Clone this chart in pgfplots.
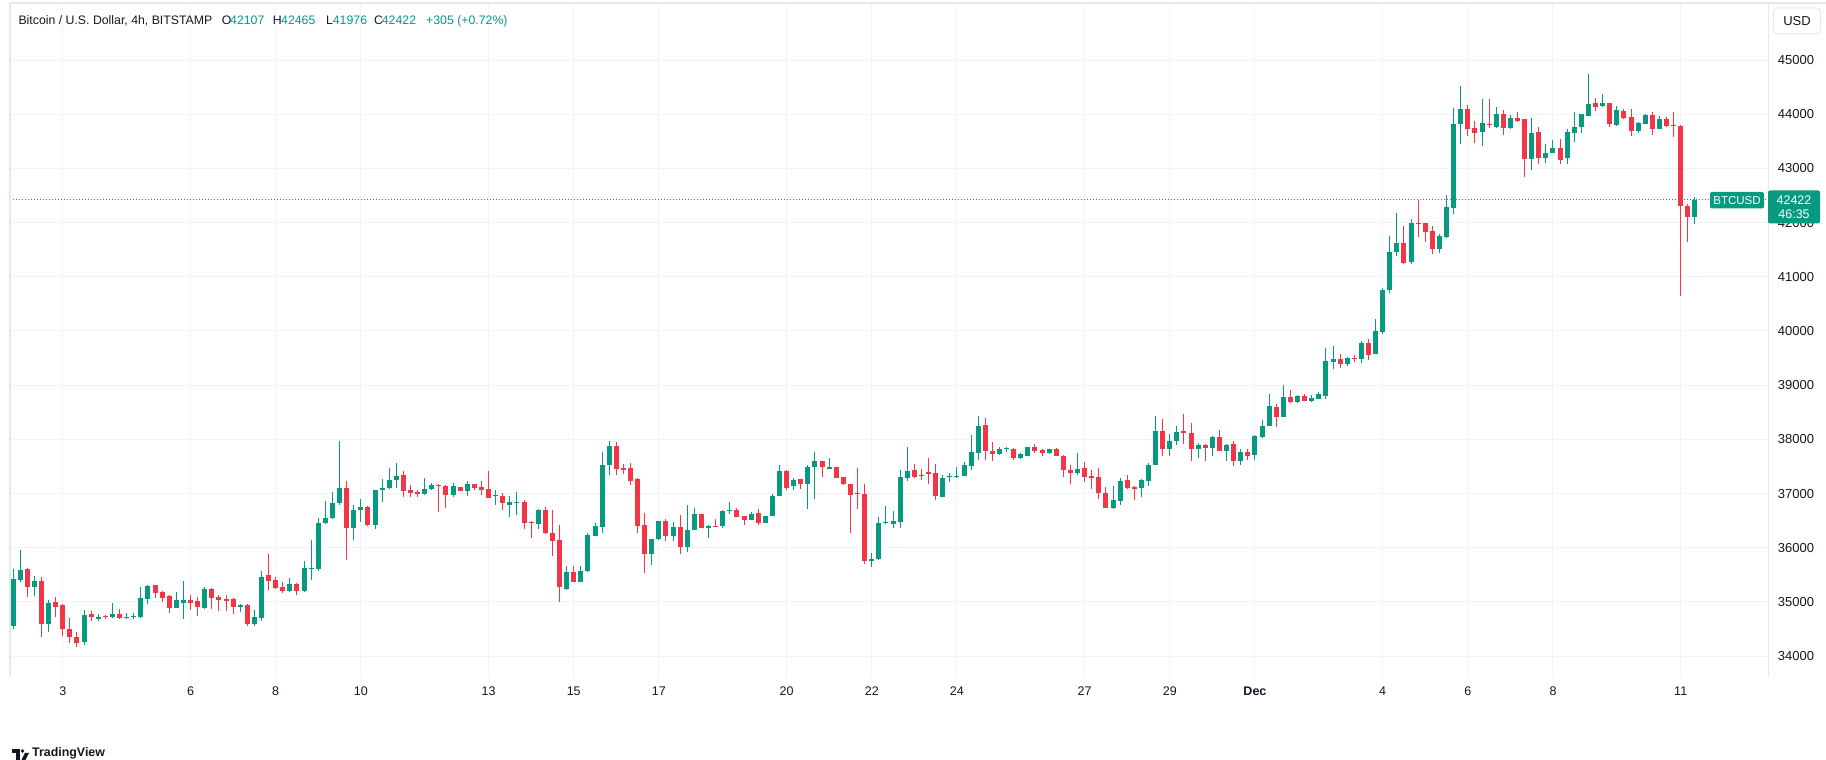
\documentclass[border=0pt]{standalone}
\usepackage{pgfplots}
\pgfplotsset{compat=1.18}
\usepackage{pgfplotstable}
\usepackage{fontspec}
\setmainfont{Liberation Sans}
\definecolor{cg}{HTML}{089981}
\definecolor{cr}{HTML}{F23645}
\definecolor{gridc}{HTML}{F0F3FA}
\definecolor{txt}{HTML}{131722}
\definecolor{framec}{HTML}{E6E8EE}

% i = candle index (4h candles, 0 = Nov 1 20:00), O H L C
\pgfplotstableread{
i O H L C
0 34560 35610 34500 35430
1 35406 35960 35375 35590
3 35284 35480 35117 35388
5 34600 35030 34450 34980
10 34260 34850 34200 34760
12 34690 34780 34650 34730
14 34718 34982 34700 34780
16 34705 34800 34690 34730
17 34720 34800 34690 34743
18 34730 35283 34700 35075
19 35056 35314 34970 35296
23 34890 35180 34880 35031
24 34982 35388 34690 35031
27 34890 35283 34870 35240
32 34908 34970 34810 34945
34 34600 34850 34550 34725
35 34700 35572 34650 35462
39 35203 35443 35185 35333
41 35203 35750 35185 35627
42 35610 36150 35406 35630
43 35609 36550 35572 36457
44 36457 36857 36440 36550
45 36550 37023 36530 36826
46 36826 37976 36790 37103
48 36365 36790 36150 36697
49 36697 36900 36470 36752
51 36420 37066 36350 37066
52 37066 37269 36845 37100
53 37100 37470 37090 37250
54 37250 37564 37100 37324
58 36990 37287 36980 37084
59 37084 37195 37070 37158
62 36974 37195 36937 37140
64 37047 37232 36955 37176
68 36955 37066 36790 36980
70 36790 36955 36568 36845
71 36830 37028 36605 36850
74 36439 36716 36347 36697
78 35240 35664 35220 35554
80 35370 35664 35360 35572
81 35572 36273 35560 36236
82 36218 36457 36210 36402
83 36384 37766 36273 37527
84 37527 37969 37342 37877
90 35886 36170 35683 36162
91 36162 36500 36144 36494
93 36218 36476 36125 36384
95 36015 36790 35923 36328
96 36328 36734 36320 36623
98 36365 36420 36180 36402
100 36402 36697 36365 36678
101 36670 36845 36623 36690
104 36513 36660 36505 36623
106 36457 36590 36450 36586
107 36586 36992 36580 36955
108 36955 37527 36950 37416
110 37140 37287 37066 37250
112 37176 37527 36716 37490
113 37490 37766 36900 37600
115 37453 37656 37450 37490
121 35750 35900 35650 35800
122 35800 36570 35780 36466
123 36466 36780 36430 36485
124 36448 36670 36374 36503
125 36485 37443 36374 37314
126 37296 37867 37240 37425
131 36945 37351 36940 37296
132 37300 37388 37222 37320
133 37310 37499 37280 37330
134 37333 37591 37330 37535
135 37517 38089 37443 37775
136 37757 38439 37628 38255
139 37738 37867 37720 37830
140 37815 37867 37775 37835
142 37664 37757 37646 37738
143 37701 37867 37690 37867
146 37757 37830 37738 37830
150 37388 37757 37351 37462
155 36743 37148 36724 36890
156 36872 37296 36798 37240
159 37111 37265 36945 37259
160 37240 37572 37148 37535
161 37535 38439 37530 38162
163 37830 38107 37701 37978
164 37978 38255 37904 38144
167 37830 37941 37664 37904
169 37849 38060 37701 38052
171 37794 37923 37609 37904
173 37609 37830 37535 37775
175 37720 38089 37628 38070
176 38052 38365 38033 38255
177 38255 38845 38250 38623
179 38420 39010 38415 38789
181 38697 38826 38679 38808
183 38716 38826 38697 38771
184 38752 38881 38745 38845
185 38808 39693 38752 39453
186 39435 39730 39305 39490
188 39398 39515 39361 39508
190 39490 39822 39416 39785
192 39582 40227 39575 40006
193 39988 40800 39950 40750
194 40750 41749 40700 41454
195 41454 42173 41380 41620
197 41269 42062 41232 41988
201 41509 41785 41435 41749
202 41730 42505 41712 42284
203 42265 44109 42154 43814
204 43814 44514 43445 44090
207 43671 44280 43412 43837
209 43763 44132 43745 44003
211 43745 43985 43726 43929
214 43172 43929 42969 43652
216 43191 43449 43098 43283
217 43283 43523 43280 43375
219 43191 43726 43080 43671
220 43652 44040 43486 43763
221 43763 44010 43652 44003
222 43966 44742 43960 44188
224 44151 44372 44132 44206
226 43800 44151 43782 44077
229 43689 43855 43652 43837
230 43818 44003 43815 43985
232 43726 43966 43720 43911
237 42107 42465 41976 42422
}\greentab

\pgfplotstableread{
i O H L C
2 35608 35620 35100 35284
4 35388 35460 34360 34600
6 35000 35090 34720 34910
7 34940 34960 34380 34500
8 34500 34700 34250 34350
9 34350 34450 34170 34250
11 34780 34835 34650 34718
13 34740 34760 34680 34718
15 34780 34870 34680 34705
20 35314 35320 35075 35167
21 35190 35200 34995 35075
22 35111 35120 34800 34890
25 35031 35123 34860 34982
26 35019 35093 34750 34908
28 35240 35260 34870 35075
29 35093 35130 34830 35037
30 35056 35130 34830 35019
31 35056 35070 34780 34908
33 34945 34970 34560 34600
36 35500 35886 35216 35388
37 35406 35460 35240 35259
38 35277 35370 35160 35203
40 35333 35350 35120 35203
47 37103 37232 35775 36365
50 36752 36770 36400 36420
55 37342 37416 36937 37047
56 37066 37160 36937 37010
57 37028 37066 36937 36990
60 37160 37170 36660 37140
61 37140 37150 36740 36974
63 37120 37130 37040 37047
65 37176 37180 37066 37103
66 37121 37232 36974 37066
67 37084 37416 36910 36918
69 36955 37010 36697 36826
72 36845 36882 36347 36457
73 36480 36494 36180 36457
75 36697 36752 36260 36273
76 36273 36697 35850 36125
77 36144 36420 35000 35277
79 35554 35664 35360 35370
85 37877 37950 37342 37453
86 37470 37545 37360 37435
87 37470 37564 37158 37232
88 37269 37280 36273 36402
89 36420 36642 35535 35886
92 36494 36531 36125 36218
94 36384 36605 35886 36015
97 36623 36630 36360 36365
99 36410 36531 36384 36390
102 36697 36734 36560 36568
103 36586 36590 36420 36513
105 36641 36716 36420 36457
109 37416 37435 37066 37103
111 37269 37275 37084 37176
114 37600 37605 37305 37490
116 37490 37495 37280 37287
117 37305 37310 37158 37176
118 37176 37180 36273 36974
119 37015 37480 36720 36990
120 37000 37185 35700 35750
127 37443 37554 37296 37314
128 37350 37450 37250 37330
129 37390 37664 37185 37370
130 37388 37554 36890 36964
137 38273 38400 37628 37794
138 37794 37960 37609 37738
141 37830 37849 37628 37664
144 37867 37923 37757 37794
145 37812 37830 37701 37757
147 37830 37849 37695 37701
148 37701 37705 37314 37443
149 37443 37535 37185 37388
151 37480 37591 37222 37314
152 37333 37443 37093 37296
153 37314 37480 36909 37019
154 37019 37130 36735 36743
157 37259 37351 37093 37111
158 37130 37148 36890 37093
162 38162 38384 37701 37830
165 38162 38476 37923 38125
166 38125 38310 37609 37830
168 37904 37910 37609 37849
170 38052 38181 37790 37794
172 37923 37978 37517 37609
174 37775 37830 37628 37701
178 38605 38660 38236 38420
180 38789 38918 38679 38697
182 38808 38845 38710 38716
187 39490 39582 39324 39398
189 39508 39564 39435 39488
191 39785 39859 39471 39564
196 41620 41933 41232 41251
198 42000 42413 41730 41980
199 41988 41995 41638 41822
200 41841 41933 41417 41509
205 44100 44164 43600 43730
206 43745 43874 43468 43652
208 43818 44280 43745 43795
210 44003 44077 43615 43745
212 43929 44040 43855 43874
213 43911 43915 42840 43172
215 43671 43763 43080 43191
218 43375 43542 43080 43154
223 44206 44298 44058 44132
225 44206 44210 43763 43818
227 44058 44095 43911 43929
228 43948 44095 43597 43689
231 43985 44040 43615 43726
233 43911 43948 43763 43782
234 43800 44040 43578 43780
235 43782 43800 40650 42300
236 42300 42350 41650 42107
}\redtab

\begin{document}
\begin{tikzpicture}[x=1pt,y=1pt]
\useasboundingbox (0,0) rectangle (1826,760);
\fill[white] (0,0) rectangle (1826,760);
\begin{axis}[
  at={(10pt,83pt)}, anchor=south west,
  width=1758pt, height=674pt, scale only axis,
  xmin=-0.44, xmax=247.3, ymin=33616, ymax=46052,
  axis line style={draw=none},
  major tick length=0pt,
  scaled y ticks=false, scaled x ticks=false,
  xtick={7,25,37,49,67,79,91,109,121,133,151,163,175,193,205,217,235},
  xticklabels={3,6,8,10,13,15,17,20,22,24,27,29,\textbf{Dec},4,6,8,11},
  ytick={34000,35000,36000,37000,38000,39000,40000,41000,42000,43000,44000,45000},
  yticklabels={34000,35000,36000,37000,38000,39000,40000,41000,42000,43000,44000,45000},
  yticklabel pos=right,
  xmajorgrids, ymajorgrids,
  grid style={draw=gridc, line width=1pt},
  tick label style={font=\fontsize{12.5}{14}\selectfont, text=txt},
  xticklabel style={anchor=base, yshift=-18.2pt},
  yticklabel style={anchor=west, inner sep=0pt, xshift=9.7pt, font=\fontsize{13}{15}\selectfont},
]
% wicks
\addplot[draw=none, mark=none, forget plot,
  error bars/.cd, y dir=plus, y explicit, error mark=none,
  error bar style={draw=cg, line width=1pt}]
  table[x=i, y=L, y error expr=\thisrow{H}-\thisrow{L}] {\greentab};
\addplot[draw=none, mark=none, forget plot,
  error bars/.cd, y dir=plus, y explicit, error mark=none,
  error bar style={draw=cr, line width=1pt}]
  table[x=i, y=L, y error expr=\thisrow{H}-\thisrow{L}] {\redtab};
% bodies
\addplot[draw=none, mark=none, forget plot,
  error bars/.cd, y dir=plus, y explicit, error mark=none,
  error bar style={draw=cg, line width=5pt}]
  table[x=i, y=O, y error expr=\thisrow{C}-\thisrow{O}] {\greentab};
\addplot[draw=none, mark=none, forget plot,
  error bars/.cd, y dir=plus, y explicit, error mark=none,
  error bar style={draw=cr, line width=5pt}]
  table[x=i, y=C, y error expr=\thisrow{O}-\thisrow{C}] {\redtab};
% last price line
\addplot[cg, line width=1pt, dash pattern=on 1pt off 2pt, mark=none, forget plot]
  coordinates {(-0.44,42422) (247.3,42422)};
\end{axis}
% frame
\draw[framec, line width=2pt] (10,83) -- (10,757) -- (1826,757);
\draw[framec, line width=1pt] (1768,83) -- (1768,757);
% title / legend
\begin{scope}[every node/.style={inner sep=0pt, anchor=base west, font=\fontsize{12.3}{14}\selectfont, text=txt}]
\node at (18.3,735) {Bitcoin / U.S. Dollar, 4h, BITSTAMP};
\node at (221.7,735) {O};
\node[text=cg] at (230,735) {42107};
\node at (272.7,735) {H};
\node[text=cg] at (281,735) {42465};
\node at (326,735) {L};
\node[text=cg] at (332.7,735) {41976};
\node at (374,735) {C};
\node[text=cg] at (381.7,735) {42422};
\node[text=cg] at (426,735) {+305 (+0.72\%)};
\end{scope}
% USD button
\draw[framec, line width=1pt, rounded corners=4pt] (1773.5,726) rectangle (1820.5,752);
\node[font=\fontsize{13}{15}\selectfont, text=txt] at (1797,739) {USD};
% last price labels
\fill[cg, rounded corners=2pt] (1710,551.5) rectangle (1764,568);
\node[text=white, font=\fontsize{11.5}{13}\selectfont, inner sep=0pt] at (1737,559.8) {BTCUSD};
\fill[cg, rounded corners=2pt] (1768,536.5) rectangle (1820,569.5);
\node[text=white, font=\fontsize{12.5}{14}\selectfont, inner sep=0pt] at (1794,560) {42422};
\node[text=white, font=\fontsize{12.5}{14}\selectfont, inner sep=0pt] at (1794,545.5) {46:35};
% TradingView footer
\fill[txt] (12,7) rectangle (19.5,11);
\fill[txt] (16,0) rectangle (19.5,11);
\fill[txt] (22.5,9) circle (1.8);
\fill[txt] (21.5,0) -- (25,7) -- (29,7) -- (25.5,0) -- cycle;
\node[anchor=west, inner sep=0pt, font=\bfseries\fontsize{12.4}{14}\selectfont, text=txt] at (32,6.5) {TradingView};
\end{tikzpicture}
\end{document}
